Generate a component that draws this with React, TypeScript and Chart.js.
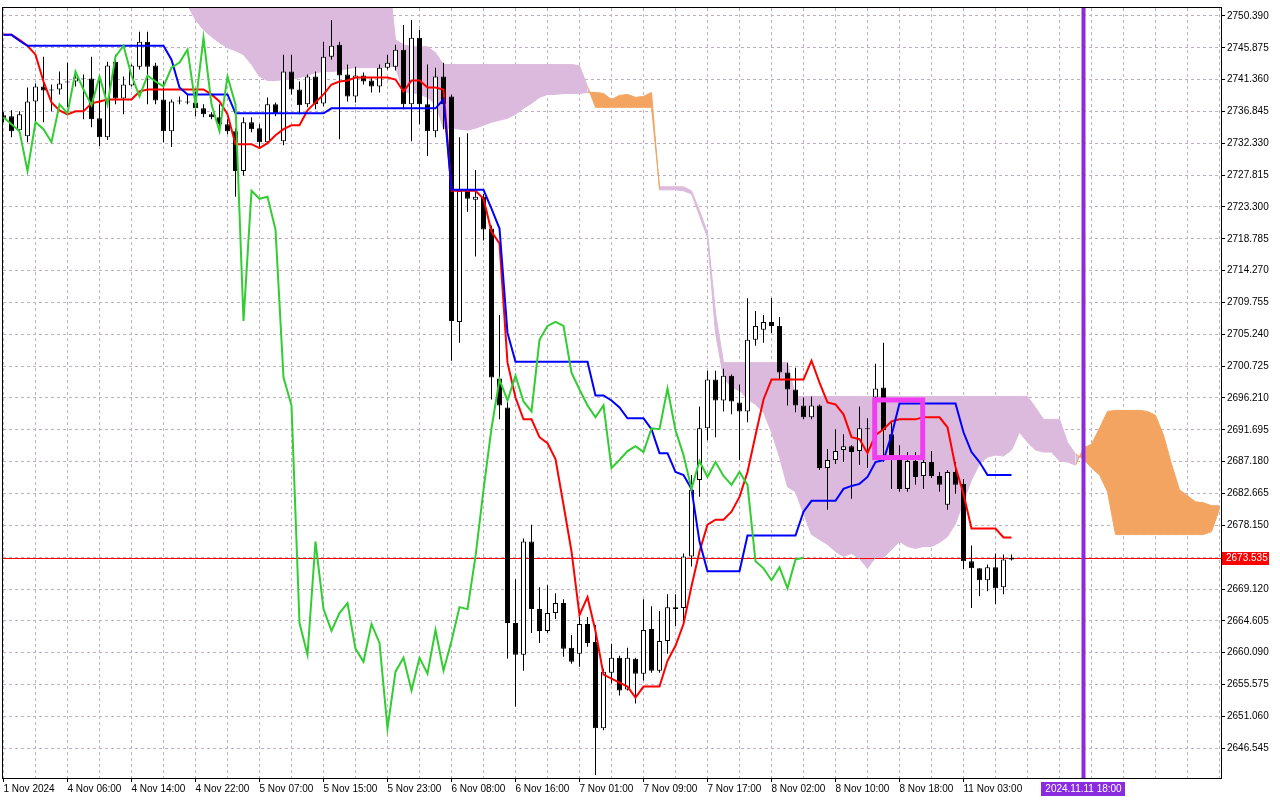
import React, { useEffect, useRef } from "react";
import { Chart, registerables } from "chart.js";

Chart.register(...registerables);

// ---------- Data (XAUUSD H1, Ichimoku) ----------
const X_LABEL_INDEX = [0, 8, 16, 24, 32, 40, 48, 56, 64, 72, 80, 88, 96, 104, 112, 120];
const X_LABELS = [
  "1 Nov 2024", "4 Nov 06:00", "4 Nov 14:00", "4 Nov 22:00", "5 Nov 07:00", "5 Nov 15:00",
  "5 Nov 23:00", "6 Nov 08:00", "6 Nov 16:00", "7 Nov 01:00", "7 Nov 09:00", "7 Nov 17:00",
  "8 Nov 02:00", "8 Nov 10:00", "8 Nov 18:00", "11 Nov 03:00",
];
const Y_TICKS = [
  2750.39, 2745.875, 2741.36, 2736.845, 2732.33, 2727.815, 2723.3, 2718.785, 2714.27, 2709.755,
  2705.24, 2700.725, 2696.21, 2691.695, 2687.18, 2682.665, 2678.15, 2673.635, 2669.12, 2664.605,
  2660.09, 2655.575, 2651.06, 2646.545,
];

const OPEN = [
  2736.30, 2736.16, 2734.19, 2733.34, 2738.27, 2740.39, 2739.96, 2739.96, 2741.09, 2741.09,
  2741.51, 2741.51, 2735.88, 2733.20, 2743.91, 2738.70, 2740.53, 2743.20, 2746.73, 2743.35,
  2738.55, 2734.05, 2738.27, 2738.27, 2738.13, 2737.29, 2736.44, 2736.02, 2735.03, 2734.05,
  2728.41, 2735.31, 2734.47, 2732.49, 2737.85, 2732.63, 2742.50, 2739.96, 2737.85, 2741.80,
  2737.99, 2744.61, 2746.30, 2742.08, 2738.98, 2741.94, 2741.23, 2740.39, 2743.06, 2743.20,
  2745.60, 2737.85, 2747.29, 2737.85, 2734.05, 2741.80, 2738.98, 2706.99, 2725.59, 2724.32,
  2724.75, 2720.24, 2698.96, 2694.87, 2664.30, 2659.79, 2675.85, 2666.27, 2663.17, 2665.71,
  2667.12, 2660.78, 2659.93, 2664.16, 2661.62, 2649.36, 2657.26, 2659.37, 2654.86, 2659.23,
  2657.11, 2663.45, 2657.54, 2661.76, 2666.55, 2666.41, 2673.74, 2684.59, 2691.92, 2698.82,
  2695.86, 2699.38, 2695.58, 2694.31, 2704.46, 2705.87, 2706.99, 2706.43, 2699.81, 2697.41,
  2695.16, 2693.47, 2695.16, 2686.28, 2687.41, 2688.82, 2689.38, 2688.68, 2691.92, 2696.28,
  2697.69, 2691.07, 2687.41, 2683.32, 2687.27, 2685.15, 2687.13, 2685.15, 2681.07, 2685.72,
  2684.03, 2673.04, 2672.05, 2670.36, 2672.19, 2669.37, 2673.32,
];
const HIGH = [
  2736.72, 2737.00, 2736.86, 2740.25, 2740.81, 2744.61, 2740.67, 2742.50, 2743.77, 2742.36,
  2742.08, 2744.61, 2741.80, 2743.91, 2744.90, 2741.80, 2743.49, 2748.14, 2748.14, 2743.77,
  2741.09, 2738.55, 2738.98, 2739.26, 2739.68, 2737.85, 2736.72, 2737.85, 2735.73, 2734.47,
  2736.02, 2736.02, 2735.03, 2738.84, 2738.13, 2744.90, 2744.90, 2741.09, 2742.08, 2742.50,
  2746.73, 2749.83, 2746.73, 2743.49, 2743.20, 2742.36, 2741.65, 2743.49, 2744.90, 2746.30,
  2749.12, 2749.83, 2748.42, 2743.49, 2743.06, 2743.77, 2739.26, 2733.20, 2733.76, 2728.55,
  2725.17, 2720.66, 2707.98, 2695.86, 2670.50, 2676.28, 2678.25, 2669.37, 2669.65, 2668.53,
  2667.68, 2662.61, 2665.71, 2665.15, 2664.02, 2657.82, 2661.34, 2659.65, 2660.78, 2659.37,
  2667.68, 2666.69, 2665.99, 2668.38, 2668.38, 2674.16, 2685.29, 2695.02, 2700.09, 2700.09,
  2700.37, 2699.53, 2698.12, 2710.37, 2708.54, 2707.98, 2710.37, 2707.70, 2701.22, 2700.51,
  2696.28, 2696.43, 2695.30, 2688.96, 2691.78, 2691.07, 2689.52, 2695.02, 2693.33, 2701.07,
  2704.03, 2692.76, 2689.52, 2688.54, 2688.54, 2688.54, 2688.68, 2685.72, 2686.00, 2687.13,
  2684.73, 2675.29, 2672.05, 2672.61, 2674.16, 2674.02, 2674.02,
];
const LOW = [
  2735.31, 2733.20, 2733.91, 2732.49, 2735.31, 2735.31, 2736.86, 2739.26, 2737.43, 2740.39,
  2735.73, 2734.61, 2731.93, 2732.78, 2737.85, 2736.44, 2740.39, 2742.78, 2737.85, 2737.85,
  2732.49, 2731.79, 2737.85, 2737.85, 2736.16, 2736.02, 2735.73, 2734.75, 2733.62, 2724.75,
  2727.71, 2733.91, 2731.79, 2732.21, 2736.16, 2732.07, 2739.26, 2736.44, 2737.43, 2737.15,
  2737.57, 2744.19, 2732.92, 2738.27, 2738.13, 2740.67, 2739.54, 2739.54, 2742.78, 2742.64,
  2737.15, 2732.63, 2735.03, 2730.52, 2733.20, 2734.33, 2701.50, 2704.03, 2722.63, 2716.29,
  2718.55, 2696.00, 2693.18, 2659.23, 2652.47, 2657.54, 2662.89, 2661.48, 2662.89, 2664.86,
  2659.51, 2658.52, 2658.10, 2660.92, 2642.74, 2649.08, 2655.71, 2654.02, 2654.72, 2652.89,
  2656.13, 2657.26, 2657.26, 2659.93, 2663.88, 2664.30, 2672.33, 2682.19, 2690.23, 2690.65,
  2694.31, 2693.89, 2687.41, 2692.76, 2703.61, 2704.03, 2705.44, 2698.82, 2695.16, 2694.17,
  2693.18, 2693.18, 2686.00, 2680.36, 2686.84, 2687.13, 2681.91, 2686.70, 2686.28, 2691.35,
  2687.13, 2683.32, 2682.90, 2682.90, 2683.89, 2683.32, 2684.87, 2682.90, 2680.36, 2682.62,
  2671.91, 2666.41, 2668.10, 2668.81, 2666.98, 2668.38, 2673.18,
];
const CLOSE = [
  2735.73, 2734.05, 2736.44, 2738.27, 2740.39, 2739.82, 2739.82, 2740.81, 2740.95, 2741.65,
  2741.45, 2735.73, 2733.20, 2743.35, 2738.70, 2740.67, 2743.35, 2746.73, 2743.20, 2738.41,
  2734.05, 2738.27, 2738.41, 2738.13, 2737.29, 2736.44, 2736.02, 2735.03, 2734.05, 2728.41,
  2735.31, 2734.33, 2732.49, 2737.85, 2736.58, 2742.50, 2739.96, 2737.71, 2741.80, 2737.85,
  2744.61, 2746.16, 2741.94, 2738.98, 2741.94, 2741.09, 2740.39, 2743.06, 2743.77, 2745.60,
  2737.85, 2747.29, 2737.85, 2734.05, 2741.80, 2737.85, 2707.13, 2725.59, 2724.46, 2724.75,
  2720.10, 2699.10, 2695.16, 2664.30, 2659.79, 2675.85, 2666.27, 2663.17, 2665.71, 2667.12,
  2660.64, 2658.80, 2664.16, 2661.48, 2649.36, 2657.40, 2659.37, 2654.72, 2659.37, 2657.11,
  2663.31, 2657.54, 2661.76, 2666.55, 2666.27, 2673.74, 2683.18, 2691.92, 2698.82, 2695.86,
  2699.38, 2695.72, 2694.31, 2704.46, 2706.43, 2706.99, 2706.43, 2699.81, 2697.41, 2695.16,
  2693.47, 2695.16, 2686.28, 2687.41, 2688.68, 2689.38, 2688.54, 2691.92, 2691.78, 2697.55,
  2691.63, 2688.11, 2683.32, 2687.27, 2685.01, 2687.13, 2685.15, 2683.89, 2685.72, 2683.89,
  2673.04, 2672.05, 2670.36, 2672.19, 2669.23, 2673.32, 2673.54,
];

const TENKAN = [
  2747.71, 2747.71, 2747.01, 2746.16, 2744.90, 2741.09, 2738.13, 2737.00, 2736.44, 2736.86,
  2736.86, 2737.99, 2738.27, 2738.55, 2738.55, 2738.55, 2738.55, 2739.68, 2739.96, 2739.96,
  2739.96, 2739.96, 2739.96, 2739.96, 2739.96, 2739.96, 2739.26, 2738.27, 2736.44, 2732.21,
  2732.21, 2732.21, 2731.65, 2732.35, 2733.48, 2734.33, 2734.89, 2734.89, 2737.00, 2738.13,
  2739.26, 2740.67, 2741.09, 2741.23, 2741.65, 2741.65, 2741.65, 2741.65, 2741.65, 2741.37,
  2739.68, 2741.23, 2741.23, 2740.25, 2740.25, 2739.96, 2725.59, 2725.59, 2725.59, 2725.59,
  2724.46, 2719.81, 2718.12, 2701.22, 2696.28, 2693.18, 2693.18, 2690.65, 2689.80, 2687.55,
  2681.07, 2674.44, 2665.43, 2667.96, 2663.17, 2656.97, 2656.41, 2655.85, 2655.28, 2653.73,
  2655.28, 2655.28, 2655.28, 2658.94, 2661.06, 2664.16, 2669.51, 2674.44, 2678.25, 2678.95,
  2678.95, 2680.08, 2682.19, 2685.72, 2690.93, 2696.00, 2698.82, 2698.82, 2698.82, 2698.82,
  2698.82, 2701.50, 2698.40, 2695.58, 2695.30, 2693.89, 2690.65, 2690.37, 2688.39, 2690.93,
  2691.78, 2692.90, 2693.18, 2693.18, 2693.18, 2693.47, 2693.47, 2693.47, 2692.06, 2686.42,
  2682.62, 2677.69, 2677.69, 2677.69, 2677.69, 2676.42, 2676.42,
];
const KIJUN = [
  2747.71, 2747.71, 2746.87, 2746.16, 2746.16, 2746.16, 2746.16, 2746.16, 2746.16, 2746.16,
  2746.16, 2746.16, 2746.16, 2746.16, 2746.16, 2746.16, 2746.16, 2746.16, 2746.16, 2746.16,
  2746.16, 2744.19, 2740.25, 2739.26, 2739.26, 2739.26, 2739.26, 2739.26, 2739.26, 2736.58,
  2736.58, 2736.58, 2736.58, 2736.58, 2736.58, 2736.58, 2736.58, 2736.58, 2736.58, 2736.58,
  2736.58, 2737.29, 2737.29, 2737.29, 2737.29, 2737.29, 2737.29, 2737.29, 2737.29, 2737.29,
  2737.29, 2737.29, 2737.29, 2737.29, 2737.29, 2738.55, 2725.73, 2725.73, 2725.73, 2725.73,
  2725.73, 2723.05, 2720.24, 2705.44, 2701.36, 2701.36, 2701.36, 2701.36, 2701.36, 2701.36,
  2701.36, 2701.36, 2701.36, 2701.36, 2696.57, 2696.57, 2695.86, 2694.87, 2693.33, 2693.33,
  2693.33, 2691.78, 2688.39, 2688.39, 2685.72, 2685.29, 2683.32, 2675.85, 2671.63, 2671.63,
  2671.63, 2671.63, 2671.63, 2676.70, 2676.70, 2676.70, 2676.70, 2676.70, 2676.70, 2676.70,
  2680.08, 2681.63, 2681.63, 2681.63, 2681.63, 2683.32, 2683.74, 2684.03, 2685.01, 2687.13,
  2687.41, 2690.93, 2695.44, 2695.44, 2695.44, 2695.44, 2695.44, 2695.44, 2695.44, 2695.44,
  2691.35, 2688.54, 2687.13, 2685.29, 2685.29, 2685.29, 2685.29,
];

// Senkou spans, plotted from bar CLOUD_START onwards (already shifted 26 bars ahead)
const CLOUD_START = 22;
const SPAN_A = [
  2753.35, 2751.94, 2749.83, 2748.42, 2747.43, 2746.59, 2745.88, 2745.46, 2744.90, 2743.49,
  2741.80, 2741.23, 2741.23, 2741.37, 2741.37, 2741.65, 2741.94, 2742.36, 2742.50, 2742.50,
  2742.64, 2742.92, 2743.06, 2743.06, 2743.06, 2743.06, 2743.20, 2743.20, 2739.54, 2739.54,
  2739.26, 2738.84, 2737.85, 2734.47, 2734.47, 2734.33, 2734.19, 2734.47, 2734.89, 2735.31,
  2735.60, 2735.88, 2736.44, 2737.29, 2737.99, 2738.84, 2739.26, 2739.26, 2739.40, 2739.40,
  2739.40, 2739.54, 2739.54, 2739.40, 2738.55, 2739.12, 2739.26, 2738.84, 2738.98, 2739.54,
  2725.73, 2725.73, 2725.73, 2725.59, 2725.17, 2722.07, 2718.97, 2705.44, 2699.10, 2697.69,
  2697.27, 2696.00, 2695.30, 2694.17, 2691.35, 2687.83, 2683.60, 2682.90, 2679.80, 2676.84,
  2676.14, 2675.43, 2674.44, 2673.74, 2674.16, 2673.46, 2672.05, 2673.60, 2673.60, 2674.73,
  2675.85, 2675.15, 2674.87, 2675.15, 2675.15, 2675.71, 2676.56, 2678.39, 2681.49, 2684.59,
  2686.84, 2687.83, 2688.11, 2687.97, 2688.82, 2691.35, 2689.94, 2688.82, 2688.54, 2688.54,
  2687.27, 2687.13, 2686.70, 2689.10, 2689.66, 2691.92, 2694.31, 2694.45, 2694.45, 2694.45,
  2694.45, 2694.31, 2693.75, 2690.93, 2686.84, 2683.18, 2682.33, 2681.49, 2681.35, 2680.93,
  2680.93,
];
const SPAN_B = [
  2757.60, 2757.60, 2757.60, 2757.60, 2757.60, 2757.60, 2757.60, 2757.60, 2757.60, 2757.60,
  2757.60, 2757.60, 2757.60, 2757.60, 2757.60, 2757.60, 2757.60, 2757.60, 2757.60, 2757.60,
  2757.60, 2757.60, 2757.60, 2757.60, 2757.60, 2757.60, 2757.60, 2747.01, 2746.30, 2746.02,
  2746.02, 2746.02, 2745.18, 2743.49, 2743.49, 2743.49, 2743.49, 2743.49, 2743.49, 2743.49,
  2743.49, 2743.49, 2743.49, 2743.49, 2743.49, 2743.49, 2743.49, 2743.49, 2743.49, 2743.49,
  2743.35, 2740.39, 2737.43, 2737.43, 2737.43, 2737.43, 2737.43, 2737.43, 2737.43, 2737.43,
  2726.15, 2726.15, 2726.15, 2726.15, 2725.59, 2722.77, 2719.67, 2708.26, 2701.22, 2701.22,
  2701.22, 2701.22, 2701.22, 2701.22, 2701.22, 2701.22, 2701.22, 2696.43, 2696.43, 2696.43,
  2696.43, 2696.43, 2696.43, 2696.43, 2696.43, 2696.43, 2696.43, 2696.43, 2696.43, 2696.43,
  2696.43, 2696.43, 2696.43, 2696.43, 2696.43, 2696.43, 2696.43, 2696.43, 2696.43, 2696.43,
  2696.43, 2696.43, 2696.43, 2696.43, 2696.43, 2696.43, 2696.43, 2694.87, 2693.18, 2693.18,
  2693.18, 2689.94, 2688.25, 2687.55, 2686.28, 2685.29, 2682.90, 2676.84, 2676.84, 2676.84,
  2676.84, 2676.84, 2676.84, 2676.84, 2676.84, 2676.84, 2676.84, 2676.84, 2676.84, 2677.26,
  2680.50,
];
const CHIKOU_SHIFT = 26;

const CURRENT_PRICE = 2673.535;
const TIME_MARKER_INDEX = 135;
const TIME_MARKER_LABEL = "2024.11.11 18:00";
const BOX_FROM = 108.9;
const BOX_TO = 114.9;
const BOX_HIGH = 2695.93;
const BOX_LOW = 2687.76;

// ---------- Styles ----------
const FONT = "'Liberation Sans', 'DejaVu Sans', sans-serif";
const GRID = "#bfb0bf";
const ORANGE = "rgb(242,164,96)";
const THISTLE = "rgb(219,186,221)";

export default function App() {
  const ref = useRef<HTMLCanvasElement | null>(null);

  useEffect(() => {
    const canvas = ref.current;
    if (!canvas) return;
    const idx = CLOSE.map((_, i) => i);
    const aAbove = (k: number) => SPAN_A[k] > SPAN_B[k];
    const segColor = (c: any) =>
      aAbove(c.p0DataIndex) || aAbove(c.p1DataIndex) ? ORANGE : THISTLE;

    const overlay = {
      id: "mtOverlay",
      beforeDatasetsDraw(chart: any) {
        const { ctx, chartArea: a, scales } = chart;
        const y = Math.round(scales.y.getPixelForValue(CURRENT_PRICE)) + 0.5;
        ctx.save();
        ctx.strokeStyle = "#ff0000";
        ctx.lineWidth = 1;
        ctx.beginPath();
        ctx.moveTo(a.left, y);
        ctx.lineTo(a.right, y);
        ctx.stroke();
        ctx.restore();
      },
      afterDatasetsDraw(chart: any) {
        const { ctx, chartArea: a, scales } = chart;
        ctx.save();
        ctx.beginPath();
        ctx.rect(a.left, a.top, a.right - a.left, a.bottom - a.top);
        ctx.clip();
        const x = scales.x.getPixelForValue(TIME_MARKER_INDEX);
        ctx.fillStyle = "#8a2be2";
        ctx.fillRect(x - 2, a.top, 4, a.bottom - a.top);
        const x1 = scales.x.getPixelForValue(BOX_FROM);
        const x2 = scales.x.getPixelForValue(BOX_TO);
        const y1 = scales.y.getPixelForValue(BOX_HIGH);
        const y2 = scales.y.getPixelForValue(BOX_LOW);
        ctx.strokeStyle = "#f23cf2";
        ctx.lineWidth = 5;
        ctx.strokeRect(x1, y1, x2 - x1, y2 - y1);
        ctx.restore();
      },
      afterDraw(chart: any) {
        const { ctx, chartArea: a, scales } = chart;
        ctx.save();
        ctx.strokeStyle = "#000";
        ctx.lineWidth = 1;
        ctx.strokeRect(a.left - 0.5, a.top - 0.5, a.right - a.left + 1, a.bottom - a.top + 1);
        const py = scales.y.getPixelForValue(CURRENT_PRICE);
        ctx.fillStyle = "#ff0000";
        ctx.fillRect(a.right + 1, Math.round(py) - 6, 47, 13);
        ctx.fillStyle = "#fff";
        ctx.font = `10px ${FONT}`;
        ctx.textBaseline = "middle";
        ctx.textAlign = "left";
        ctx.fillText(CURRENT_PRICE.toFixed(3), a.right + 5, Math.round(py) + 0.5);
        const tx = scales.x.getPixelForValue(TIME_MARKER_INDEX);
        const w = ctx.measureText(TIME_MARKER_LABEL).width + 8;
        ctx.fillStyle = "#8a2be2";
        ctx.fillRect(Math.round(tx - w / 2), a.bottom + 4, Math.round(w), 14);
        ctx.fillStyle = "#fff";
        ctx.textAlign = "center";
        ctx.fillText(TIME_MARKER_LABEL, tx, a.bottom + 11.5);
        ctx.restore();
      },
    };

    const chart = new Chart(canvas, {
      type: "bar",
      data: {
        datasets: [
          {
            type: "line",
            label: "Senkou Span B",
            data: SPAN_B.map((v, i) => ({ x: CLOUD_START + i, y: v })),
            borderColor: THISTLE,
            segment: { borderColor: segColor },
            borderWidth: 1,
            pointRadius: 0,
            fill: false,
            order: 20,
          } as any,
          {
            type: "line",
            label: "Senkou Span A",
            data: SPAN_A.map((v, i) => ({ x: CLOUD_START + i, y: v })),
            borderColor: THISTLE,
            segment: { borderColor: segColor },
            borderWidth: 1,
            pointRadius: 0,
            fill: { target: 0, above: ORANGE, below: THISTLE },
            order: 19,
          } as any,
          {
            type: "bar",
            label: "wick",
            data: idx.map((i) => ({ x: i, y: [LOW[i], HIGH[i]] })),
            backgroundColor: "#000",
            borderWidth: 0,
            barThickness: 1,
            grouped: false,
            inflateAmount: 0,
            order: 10,
          } as any,
          {
            type: "bar",
            label: "body",
            data: idx.map((i) => ({ x: i, y: [OPEN[i], CLOSE[i]] })),
            backgroundColor: idx.map((i) => (CLOSE[i] >= OPEN[i] ? "#fff" : "#000")),
            borderColor: "#000",
            borderWidth: 1,
            borderSkipped: false,
            barThickness: 5,
            grouped: false,
            inflateAmount: 0,
            order: 9,
          } as any,
          {
            type: "line",
            label: "Tenkan-sen",
            data: TENKAN.map((v, i) => ({ x: i, y: v })),
            borderColor: "#ff0000",
            borderWidth: 2,
            pointRadius: 0,
            fill: false,
            order: 3,
          } as any,
          {
            type: "line",
            label: "Kijun-sen",
            data: KIJUN.map((v, i) => ({ x: i, y: v })),
            borderColor: "#0000ff",
            borderWidth: 2,
            pointRadius: 0,
            fill: false,
            order: 2,
          } as any,
          {
            type: "line",
            label: "Chikou Span",
            data: CLOSE.slice(CHIKOU_SHIFT).map((v, i) => ({ x: i, y: v })),
            borderColor: "#32cd32",
            borderWidth: 2,
            pointRadius: 0,
            fill: false,
            order: 1,
          } as any,
        ],
      },
      options: {
        responsive: false,
        devicePixelRatio: 1,
        animation: false,
        events: [],
        layout: { padding: { left: 3, top: 3, right: 0, bottom: 0 } },
        plugins: {
          legend: { display: false },
          tooltip: { enabled: false },
          filler: { drawTime: "beforeDatasetsDraw" },
        } as any,
        scales: {
          x: {
            type: "linear",
            min: -0.0625,
            max: 152.1875,
            offset: false,
            afterFit: (s: any) => {
              s.height = 22;
            },
            afterBuildTicks: (s: any) => {
              const t: any[] = [];
              for (let v = 0; v <= 152; v += 4) t.push({ value: v });
              s.ticks = t;
            },
            grid: {
              offset: false,
              color: GRID,
              lineWidth: 1,
              tickLength: 4,
              tickColor: (c: any) =>
                X_LABEL_INDEX.includes(c.tick && c.tick.value) ? "#000" : "rgba(0,0,0,0)",
            },
            border: { display: false, dash: [3, 3] },
            ticks: {
              autoSkip: false,
              maxRotation: 0,
              minRotation: 0,
              align: "start",
              padding: 1,
              color: "#000",
              font: { family: FONT, size: 10 },
              callback: (v: any) => {
                const k = X_LABEL_INDEX.indexOf(Number(v));
                return k >= 0 ? X_LABELS[k] : "";
              },
            },
          },
          y: {
            type: "linear",
            position: "right",
            min: 2642.318,
            max: 2751.517,
            afterFit: (s: any) => {
              s.width = 59;
            },
            afterBuildTicks: (s: any) => {
              s.ticks = Y_TICKS.map((v) => ({ value: v }));
            },
            grid: {
              color: GRID,
              lineWidth: 1,
              tickLength: 4,
              tickColor: "#000",
            },
            border: { display: false, dash: [3, 3] },
            ticks: {
              padding: 2,
              color: "#000",
              font: { family: FONT, size: 10 },
              callback: (v: any) => Number(v).toFixed(3),
            },
          },
        },
      } as any,
      plugins: [overlay as any],
    });

    return () => chart.destroy();
  }, []);

  return (
    <div style={{ position: "absolute", left: 0, top: 0, width: 1280, height: 800, background: "#fff" }}>
      <canvas ref={ref} width={1280} height={800} style={{ display: "block", width: 1280, height: 800 }} />
    </div>
  );
}
